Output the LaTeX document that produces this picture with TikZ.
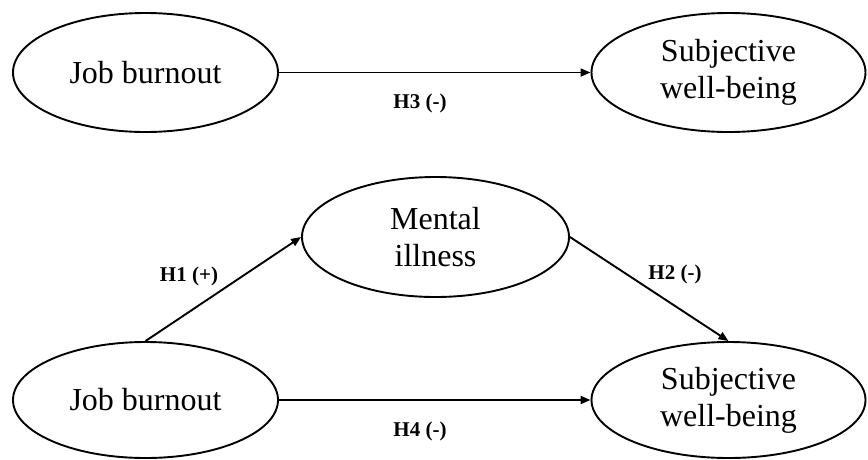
\documentclass[tikz,border=0pt]{standalone}
\usepackage{fontspec}
\setmainfont{Liberation Serif}
\usetikzlibrary{shapes.geometric,arrows.meta}
\tikzset{
  construct/.style={draw=black, line width=1.9pt, ellipse, inner sep=0pt, align=center,
    font=\fontsize{32}{37}\selectfont},
  path/.style={draw=black, line width=1.9pt, -{Triangle[length=10pt,width=8pt]}},
  lbl/.style={font=\fontsize{21}{24}\selectfont\bfseries, inner sep=0pt}
}
\begin{document}
\begin{tikzpicture}[x=1pt,y=-1pt]
\useasboundingbox (0,0) rectangle (868,459);
% top model
\node[construct, minimum width=265pt, minimum height=119pt] (jb1) at (145.5,72.5) {Job burnout};
\node[construct, minimum width=274pt, minimum height=119pt] (sw1) at (728.5,72.5) {Subjective\\well-being};
\draw[path] (jb1.east) -- (sw1.west);
\node[lbl] (h3) at (420,103) {H3 (-)};
% bottom model
\node[construct, minimum width=267pt, minimum height=120pt] (mi) at (435.5,237) {Mental\\illness};
\node[construct, minimum width=265pt, minimum height=116pt] (jb2) at (145.5,400) {Job burnout};
\node[construct, minimum width=274pt, minimum height=116pt] (sw2) at (728.5,400) {Subjective\\well-being};
\draw[path] (jb2.north) -- (mi.west);
\draw[path] (mi.east) -- (sw2.north);
\draw[path] (jb2.east) -- (sw2.west);
\node[lbl] (h1) at (189,276) {H1 (+)};
\node[lbl] (h2) at (675,274) {H2 (-)};
\node[lbl] (h4) at (420,431) {H4 (-)};
\end{tikzpicture}
\end{document}
